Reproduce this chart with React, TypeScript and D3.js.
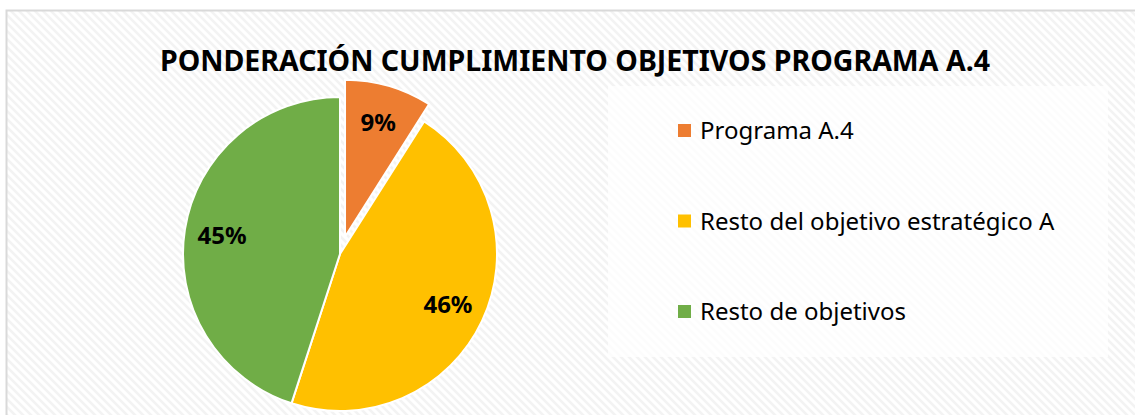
import { useEffect, useRef } from "react";
import * as d3 from "d3";

const W = 1135;
const H = 415;

const categories = ["Programa A.4", "Resto del objetivo estratégico A", "Resto de objetivos"];
const values = [9, 46, 45];
const colors = ["#ED7D31", "#FFC000", "#70AD47"];
const exploded = [true, false, false];

const TITLE = "PONDERACIÓN CUMPLIMIENTO OBJETIVOS PROGRAMA A.4";
const FONT = "'Noto Sans', 'Open Sans', sans-serif";

export default function App() {
  const svgRef = useRef<SVGSVGElement | null>(null);

  useEffect(() => {
    const svg = d3.select(svgRef.current);
    svg.selectAll("*").remove();

    const defs = svg.append("defs");
    const pat = defs
      .append("pattern")
      .attr("id", "hatch")
      .attr("patternUnits", "userSpaceOnUse")
      .attr("width", 8)
      .attr("height", 8);
    pat.append("rect").attr("width", 8).attr("height", 8).attr("fill", "#ffffff");
    pat
      .append("path")
      .attr("d", "M-2,-2 L10,10 M-2,6 L2,10 M6,-2 L10,2")
      .attr("stroke", "#f3f3f3")
      .attr("stroke-width", 2.5);

    // chart frame
    svg
      .append("rect")
      .attr("x", 6.5)
      .attr("y", 10.5)
      .attr("width", W + 20)
      .attr("height", H + 20)
      .attr("fill", "url(#hatch)")
      .attr("stroke", "#d9d9d9")
      .attr("stroke-width", 2);

    // title
    svg
      .append("text")
      .attr("x", 575)
      .attr("y", 71)
      .attr("text-anchor", "middle")
      .attr("font-family", FONT)
      .attr("font-weight", "bold")
      .attr("font-size", 28)
      .attr("fill", "#000")
      .attr("textLength", 830)
      .attr("lengthAdjust", "spacingAndGlyphs")
      .text(TITLE);

    // pie
    const cx = 340;
    const cy = 254;
    const r = 157;
    const explode = 18;

    const pie = d3.pie<number>().sort(null).value((d) => d);
    const arcs = pie(values);
    const arc = d3.arc<d3.PieArcDatum<number>>().innerRadius(0).outerRadius(r);
    const labelArc = d3
      .arc<d3.PieArcDatum<number>>()
      .innerRadius(r * 0.76)
      .outerRadius(r * 0.76);

    const g = svg.append("g").attr("transform", `translate(${cx},${cy})`);
    const slice = g
      .selectAll("g.slice")
      .data(arcs)
      .join("g")
      .attr("class", "slice")
      .attr("transform", (d, i) => {
        if (!exploded[i]) return null;
        const a = (d.startAngle + d.endAngle) / 2;
        return `translate(${explode * Math.sin(a)},${-explode * Math.cos(a)})`;
      });

    slice
      .append("path")
      .attr("d", arc)
      .attr("fill", (d, i) => colors[i])
      .attr("stroke", "#ffffff")
      .attr("stroke-width", 2)
      .attr("stroke-linejoin", "round");

    slice
      .append("text")
      .attr("transform", (d) => `translate(${labelArc.centroid(d)})`)
      .attr("text-anchor", "middle")
      .attr("dy", "0.36em")
      .attr("font-family", FONT)
      .attr("font-weight", "bold")
      .attr("font-size", 24)
      .attr("fill", "#000")
      .text((d) => `${d.data}%`);

    // legend
    const legend = svg.append("g");
    legend
      .append("rect")
      .attr("x", 608)
      .attr("y", 86)
      .attr("width", 500)
      .attr("height", 271)
      .attr("fill", "#ffffff")
      .attr("fill-opacity", 0.75);

    const rowY = d3.scalePoint<string>().domain(categories).range([131, 312]);
    const item = legend
      .selectAll("g.item")
      .data(categories)
      .join("g")
      .attr("class", "item")
      .attr("transform", (d) => `translate(678,${rowY(d)})`);
    item
      .append("rect")
      .attr("x", 0)
      .attr("y", -7)
      .attr("width", 13)
      .attr("height", 13)
      .attr("fill", (d, i) => colors[i]);
    item
      .append("text")
      .attr("x", 22)
      .attr("y", 0)
      .attr("dy", "0.35em")
      .attr("font-family", FONT)
      .attr("font-size", 24)
      .attr("fill", "#000")
      .text((d) => d);
  }, []);

  return (
    <svg
      ref={svgRef}
      width={W}
      height={H}
      style={{ position: "absolute", left: 0, top: 0, display: "block" }}
    />
  );
}
